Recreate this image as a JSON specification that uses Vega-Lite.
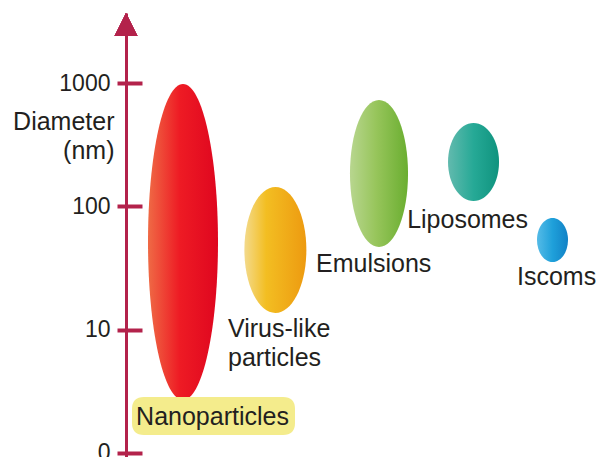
{
  "$schema": "https://vega.github.io/schema/vega-lite/v6.json",
  "width": 472,
  "height": 444,
  "autosize": {"type": "none"},
  "padding": {"left": 126, "top": 13, "right": 0, "bottom": 0},
  "background": "white",
  "config": {"view": {"stroke": null}, "font": "Liberation Sans"},
  "data": {
    "values": [
      {"particle": "Nanoparticles", "mid": 51.4, "min": 2.69, "max": 1000},
      {"particle": "Virus-like particles", "mid": 44.3, "min": 13.6, "max": 143},
      {"particle": "Emulsions", "mid": 185, "min": 46.8, "max": 728},
      {"particle": "Liposomes", "mid": 229, "min": 110, "max": 474},
      {"particle": "Iscoms", "mid": 53.3, "min": 35.4, "max": 80}
    ]
  },
  "layer": [
    {
      "layer": [
        {
          "transform": [{"filter": "datum.particle == 'Nanoparticles'"}],
          "mark": {"type": "point", "filled": true, "opacity": 1, "strokeWidth": 0, "size": 99856,
            "shape": "M0,-1C0.1223,-1 0.2215,-0.5523 0.2215,0C0.2215,0.5523 0.1223,1 0,1C-0.1223,1 -0.2215,0.5523 -0.2215,0C-0.2215,-0.5523 -0.1223,-1 0,-1Z",
            "fill": {"gradient": "linear", "x1": 0, "y1": 0, "x2": 1, "y2": 0, "stops": [
              {"offset": 0, "color": "#EF6A45"}, {"offset": 0.45, "color": "#EE1B24"}, {"offset": 1, "color": "#DF061F"}]}},
          "encoding": {
            "x": {"field": "particle", "type": "nominal", "axis": null, "scale": {"type": "point", "padding": 0, "domain": ["Nanoparticles", "Virus-like particles", "Emulsions", "Liposomes", "Iscoms"], "range": [57, 426.5]}},
            "y": {"field": "mid", "type": "quantitative", "title": null,
              "scale": {"type": "log", "domain": [0.928, 3695], "nice": false, "zero": false},
              "axis": {"orient": "left", "values": [1, 10, 100, 1000], "domain": false, "grid": false, "ticks": true, "tickSize": 25, "tickWidth": 4, "tickColor": "#B3224B", "offset": -16, "labelPadding": 7, "labelFontSize": 23, "labelFont": "Liberation Sans", "labelColor": "#231F20", "labelExpr": "datum.value < 2 ? '0' : format(datum.value, 'd')", "title": null}}
          }
        },
        {
          "transform": [{"filter": "datum.particle == 'Virus-like particles'"}],
          "mark": {"type": "point", "filled": true, "opacity": 1, "strokeWidth": 0, "size": 15876,
            "shape": "M0,-1C0.2717,-1 0.492,-0.5523 0.492,0C0.492,0.5523 0.2717,1 0,1C-0.2717,1 -0.492,0.5523 -0.492,0C-0.492,-0.5523 -0.2717,-1 0,-1Z",
            "fill": {"gradient": "linear", "x1": 0, "y1": 0, "x2": 1, "y2": 0, "stops": [
              {"offset": 0, "color": "#F3DA8C"}, {"offset": 0.35, "color": "#F3BE22"}, {"offset": 1, "color": "#ED9A10"}]}},
          "encoding": {
            "x": {"field": "particle", "type": "nominal", "axis": null, "scale": {"type": "point", "padding": 0, "domain": ["Nanoparticles", "Virus-like particles", "Emulsions", "Liposomes", "Iscoms"], "range": [57, 426.5]}},
            "y": {"field": "mid", "type": "quantitative", "title": null, "scale": {"type": "log", "domain": [0.928, 3695], "nice": false, "zero": false}}
          }
        },
        {
          "transform": [{"filter": "datum.particle == 'Emulsions'"}],
          "mark": {"type": "point", "filled": true, "opacity": 1, "strokeWidth": 0, "size": 21609, "xOffset": 11.25,
            "shape": "M0,-1C0.2182,-1 0.395,-0.5523 0.395,0C0.395,0.5523 0.2182,1 0,1C-0.2182,1 -0.395,0.5523 -0.395,0C-0.395,-0.5523 -0.2182,-1 0,-1Z",
            "fill": {"gradient": "linear", "x1": 0, "y1": 0, "x2": 1, "y2": 0, "stops": [
              {"offset": 0, "color": "#B8D68F"}, {"offset": 0.45, "color": "#97C55B"}, {"offset": 1, "color": "#6AAE30"}]}},
          "encoding": {
            "x": {"field": "particle", "type": "nominal", "axis": null, "scale": {"type": "point", "padding": 0, "domain": ["Nanoparticles", "Virus-like particles", "Emulsions", "Liposomes", "Iscoms"], "range": [57, 426.5]}},
            "y": {"field": "mid", "type": "quantitative", "title": null, "scale": {"type": "log", "domain": [0.928, 3695], "nice": false, "zero": false}}
          }
        },
        {
          "transform": [{"filter": "datum.particle == 'Liposomes'"}],
          "mark": {"type": "point", "filled": true, "opacity": 1, "strokeWidth": 0, "size": 6084, "xOffset": 13.4,
            "shape": "M0,-1C0.3612,-1 0.654,-0.5523 0.654,0C0.654,0.5523 0.3612,1 0,1C-0.3612,1 -0.654,0.5523 -0.654,0C-0.654,-0.5523 -0.3612,-1 0,-1Z",
            "fill": {"gradient": "linear", "x1": 0, "y1": 0, "x2": 1, "y2": 0, "stops": [
              {"offset": 0, "color": "#62BAAE"}, {"offset": 0.5, "color": "#26A996"}, {"offset": 1, "color": "#0F937E"}]}},
          "encoding": {
            "x": {"field": "particle", "type": "nominal", "axis": null, "scale": {"type": "point", "padding": 0, "domain": ["Nanoparticles", "Virus-like particles", "Emulsions", "Liposomes", "Iscoms"], "range": [57, 426.5]}},
            "y": {"field": "mid", "type": "quantitative", "title": null, "scale": {"type": "log", "domain": [0.928, 3695], "nice": false, "zero": false}}
          }
        },
        {
          "transform": [{"filter": "datum.particle == 'Iscoms'"}],
          "mark": {"type": "point", "filled": true, "opacity": 1, "strokeWidth": 0, "size": 1936,
            "shape": "M0,-1C0.3894,-1 0.705,-0.5523 0.705,0C0.705,0.5523 0.3894,1 0,1C-0.3894,1 -0.705,0.5523 -0.705,0C-0.705,-0.5523 -0.3894,-1 0,-1Z",
            "fill": {"gradient": "linear", "x1": 0, "y1": 0, "x2": 1, "y2": 0, "stops": [
              {"offset": 0, "color": "#55BBE7"}, {"offset": 0.5, "color": "#1FA0DA"}, {"offset": 1, "color": "#1182C6"}]}},
          "encoding": {
            "x": {"field": "particle", "type": "nominal", "axis": null, "scale": {"type": "point", "padding": 0, "domain": ["Nanoparticles", "Virus-like particles", "Emulsions", "Liposomes", "Iscoms"], "range": [57, 426.5]}},
            "y": {"field": "mid", "type": "quantitative", "title": null, "scale": {"type": "log", "domain": [0.928, 3695], "nice": false, "zero": false}}
          }
        },
        {
          "transform": [{"filter": "datum.particle == 'Nanoparticles'"}],
          "mark": {"type": "point", "filled": true, "opacity": 1, "strokeWidth": 0, "size": 26569, "xOffset": 30.5, "yOffset": 16, "fill": "#F4EC8C",
            "shape": "M-0.853,-0.233L0.853,-0.233Q1,-0.233 1,-0.086L1,0.086Q1,0.233 0.853,0.233L-0.853,0.233Q-1,0.233 -1,0.086L-1,-0.086Q-1,-0.233 -0.853,-0.233Z"},
          "encoding": {
            "x": {"field": "particle", "type": "nominal", "axis": null, "scale": {"type": "point", "padding": 0, "domain": ["Nanoparticles", "Virus-like particles", "Emulsions", "Liposomes", "Iscoms"], "range": [57, 426.5]}},
            "y": {"field": "min", "type": "quantitative", "title": null, "scale": {"type": "log", "domain": [0.928, 3695], "nice": false, "zero": false}}
          }
        },
        {
          "transform": [{"filter": "datum.particle == 'Nanoparticles'"}],
          "mark": {"type": "text", "align": "center", "baseline": "alphabetic", "dx": 29.5, "dy": 25, "fontSize": 25, "font": "Liberation Sans", "fill": "#231F20"},
          "encoding": {
            "x": {"field": "particle", "type": "nominal", "axis": null, "scale": {"type": "point", "padding": 0, "domain": ["Nanoparticles", "Virus-like particles", "Emulsions", "Liposomes", "Iscoms"], "range": [57, 426.5]}},
            "y": {"field": "min", "type": "quantitative", "title": null, "scale": {"type": "log", "domain": [0.928, 3695], "nice": false, "zero": false}},
            "text": {"field": "particle"}
          }
        },
        {
          "transform": [{"filter": "datum.particle == 'Virus-like particles'"}],
          "mark": {"type": "text", "align": "left", "baseline": "alphabetic", "dx": -47.4, "dy": 24, "lineBreak": " ", "lineHeight": 29, "fontSize": 25, "font": "Liberation Sans", "fill": "#231F20"},
          "encoding": {
            "x": {"field": "particle", "type": "nominal", "axis": null, "scale": {"type": "point", "padding": 0, "domain": ["Nanoparticles", "Virus-like particles", "Emulsions", "Liposomes", "Iscoms"], "range": [57, 426.5]}},
            "y": {"field": "min", "type": "quantitative", "title": null, "scale": {"type": "log", "domain": [0.928, 3695], "nice": false, "zero": false}},
            "text": {"field": "particle"}
          }
        },
        {
          "transform": [{"filter": "datum.particle == 'Emulsions'"}],
          "mark": {"type": "text", "align": "left", "baseline": "alphabetic", "dx": -51.75, "dy": 25, "fontSize": 25, "font": "Liberation Sans", "fill": "#231F20"},
          "encoding": {
            "x": {"field": "particle", "type": "nominal", "axis": null, "scale": {"type": "point", "padding": 0, "domain": ["Nanoparticles", "Virus-like particles", "Emulsions", "Liposomes", "Iscoms"], "range": [57, 426.5]}},
            "y": {"field": "min", "type": "quantitative", "title": null, "scale": {"type": "log", "domain": [0.928, 3695], "nice": false, "zero": false}},
            "text": {"field": "particle"}
          }
        },
        {
          "transform": [{"filter": "datum.particle == 'Liposomes'"}],
          "mark": {"type": "text", "align": "left", "baseline": "alphabetic", "dx": -53, "dy": 27, "fontSize": 25, "font": "Liberation Sans", "fill": "#231F20"},
          "encoding": {
            "x": {"field": "particle", "type": "nominal", "axis": null, "scale": {"type": "point", "padding": 0, "domain": ["Nanoparticles", "Virus-like particles", "Emulsions", "Liposomes", "Iscoms"], "range": [57, 426.5]}},
            "y": {"field": "min", "type": "quantitative", "title": null, "scale": {"type": "log", "domain": [0.928, 3695], "nice": false, "zero": false}},
            "text": {"field": "particle"}
          }
        },
        {
          "transform": [{"filter": "datum.particle == 'Iscoms'"}],
          "mark": {"type": "text", "align": "left", "baseline": "alphabetic", "dx": -35.5, "dy": 23, "fontSize": 25, "font": "Liberation Sans", "fill": "#231F20"},
          "encoding": {
            "x": {"field": "particle", "type": "nominal", "axis": null, "scale": {"type": "point", "padding": 0, "domain": ["Nanoparticles", "Virus-like particles", "Emulsions", "Liposomes", "Iscoms"], "range": [57, 426.5]}},
            "y": {"field": "min", "type": "quantitative", "title": null, "scale": {"type": "log", "domain": [0.928, 3695], "nice": false, "zero": false}},
            "text": {"field": "particle"}
          }
        }
      ]
    },
    {
      "mark": {"type": "point", "shape": "M0,0L1,2L-1,2Z", "size": 529, "filled": true, "fill": "#B3224B", "opacity": 1, "strokeWidth": 0},
      "encoding": {
        "x": {"value": 0},
        "y": {"datum": 3695, "type": "quantitative",
          "scale": {"type": "log", "domain": [0.928, 3695], "nice": false, "zero": false},
          "axis": {"orient": "left", "domain": true, "domainColor": "#B3224B", "domainWidth": 3, "ticks": false, "labels": false, "grid": false,
            "title": ["Diameter", "(nm)"], "titleAngle": 0, "titleAlign": "right", "titleBaseline": "alphabetic", "titleX": -12, "titleY": 116,
            "titleFontSize": 25, "titleFontWeight": "normal", "titleColor": "#231F20", "titleFont": "Liberation Sans", "titleLineHeight": 29}}
      }
    }
  ],
  "resolve": {"scale": {"y": "independent"}, "axis": {"y": "independent"}}
}
